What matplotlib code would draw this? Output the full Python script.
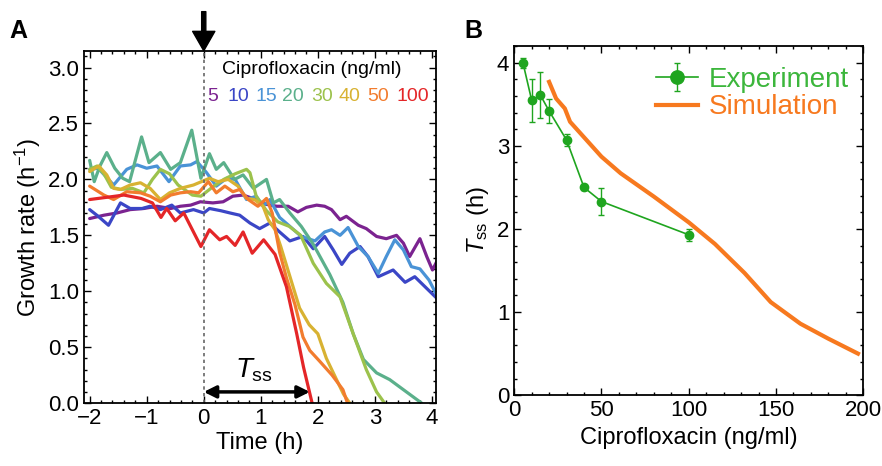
import matplotlib
matplotlib.use("Agg")
import matplotlib.pyplot as plt
from matplotlib.ticker import MultipleLocator

plt.rcParams['font.family'] = ['Liberation Sans', 'DejaVu Sans']
plt.rcParams['mathtext.fontset'] = 'custom'
plt.rcParams['mathtext.rm'] = 'Liberation Sans'
plt.rcParams['mathtext.it'] = 'Liberation Sans:italic'

# ---- Panel A: growth rate vs time, one curve per ciprofloxacin dose ----
doses = ['5', '10', '15', '20', '30', '40', '50', '100']
dose_colors = ['#7b2390', '#3b46c6', '#4a93d6', '#5bb08b', '#9cc24c', '#d8b232', '#f27c2e', '#e42628']

t_5 = [-2.0, -1.75, -1.52, -1.29, -1.05, -0.82, -0.58, -0.41, -0.23, -0.06, 0.16, 0.34, 0.51, 0.69, 0.86,
       1.07, 1.28, 1.48, 1.65, 1.80, 1.98, 2.12, 2.24, 2.39, 2.50, 2.71, 2.85, 3.03, 3.20, 3.38, 3.50, 3.61,
       3.79, 3.91, 4.01, 4.10]
g_5 = [1.65, 1.68, 1.70, 1.73, 1.74, 1.76, 1.74, 1.76, 1.77, 1.80, 1.79, 1.80, 1.85, 1.86, 1.83,
       1.78, 1.76, 1.76, 1.71, 1.75, 1.77, 1.76, 1.73, 1.64, 1.67, 1.59, 1.56, 1.49, 1.47, 1.50, 1.43, 1.31,
       1.47, 1.31, 1.19, 1.28]

t_10 = [-2.0, -1.85, -1.67, -1.46, -1.29, -1.08, -0.94, -0.76, -0.56, -0.41, -0.18, 0.0, 0.1, 0.3, 0.46,
        0.63, 0.81, 0.98, 1.16, 1.33, 1.51, 1.74, 1.92, 2.12, 2.27, 2.42, 2.56, 2.74, 2.88, 3.06, 3.32, 3.53,
        3.70, 3.88, 4.10]
g_10 = [1.73, 1.67, 1.59, 1.79, 1.74, 1.74, 1.76, 1.73, 1.77, 1.70, 1.73, 1.70, 1.74, 1.72, 1.70,
        1.68, 1.61, 1.56, 1.61, 1.53, 1.45, 1.49, 1.38, 1.49, 1.37, 1.24, 1.34, 1.40, 1.31, 1.13, 1.19, 1.08,
        1.13, 1.04, 0.93]

t_15 = [-2.0, -1.85, -1.58, -1.35, -1.17, -1.0, -0.82, -0.61, -0.41, -0.23, -0.12, 0.0, 0.05, 0.22, 0.4,
        0.55, 0.75, 0.92, 1.04, 1.16, 1.33, 1.51, 1.71, 1.95, 2.12, 2.24, 2.39, 2.53, 2.71, 2.88, 3.06, 3.20,
        3.35, 3.50, 3.64, 3.79, 3.95, 4.10]
g_15 = [2.09, 2.10, 1.95, 2.09, 2.13, 2.10, 2.12, 1.98, 2.12, 2.13, 2.16, 2.09, 2.06, 1.94, 2.01,
        2.00, 1.82, 1.85, 1.76, 1.82, 1.66, 1.58, 1.49, 1.45, 1.53, 1.55, 1.50, 1.57, 1.40, 1.31, 1.16, 1.31,
        1.46, 1.37, 1.22, 1.20, 1.10, 0.95]

t_20 = [-2.0, -1.92, -1.82, -1.70, -1.56, -1.42, -1.30, -1.09, -0.96, -0.76, -0.58, -0.41, -0.21, -0.05,
        0.1, 0.22, 0.35, 0.54, 0.69, 0.87, 1.10, 1.22, 1.33, 1.51, 1.71, 1.92, 2.21, 2.44, 2.62, 2.80, 3.03,
        3.26, 3.50, 3.82]
g_20 = [2.17, 1.98, 2.12, 2.24, 2.10, 2.01, 1.98, 2.38, 2.15, 2.24, 2.09, 2.15, 2.44, 2.01,
        2.23, 2.09, 2.15, 2.00, 2.04, 1.92, 2.00, 1.79, 1.82, 1.70, 1.58, 1.42, 1.15, 0.90, 0.62, 0.39, 0.27,
        0.21, 0.12, 0.0]

t_30 = [-2.0, -1.87, -1.75, -1.62, -1.45, -1.25, -1.05, -0.9, -0.76, -0.6, -0.45, -0.2, -0.05, 0.15, 0.35,
        0.55, 0.75, 0.81, 0.92, 1.1, 1.3, 1.5, 1.7, 1.92, 2.15, 2.39, 2.62, 2.85, 3.03, 3.17]
g_30 = [2.09, 2.12, 2.05, 1.93, 1.91, 1.92, 1.88, 2.0, 2.09, 2.05, 1.95, 1.86, 1.85, 1.93, 2.0,
        2.05, 2.09, 2.06, 1.85, 1.72, 1.62, 1.58, 1.50, 1.25, 1.07, 0.95, 0.62, 0.30, 0.10, 0.0]

t_40 = [-2.0, -1.84, -1.70, -1.58, -1.46, -1.29, -1.11, -0.94, -0.76, -0.6, -0.41, -0.18, 0.1, 0.25, 0.43,
        0.6, 0.75, 0.89, 1.04, 1.13, 1.25, 1.35, 1.5, 1.68, 1.85, 2.0, 2.15, 2.3, 2.45, 2.56]
g_40 = [2.07, 2.12, 2.04, 1.92, 1.91, 1.95, 1.97, 1.92, 1.82, 1.88, 1.92, 1.95, 2.01, 1.98, 2.0,
        1.94, 1.83, 1.82, 1.76, 1.64, 1.55, 1.40, 1.15, 0.85, 0.70, 0.62, 0.40, 0.24, 0.08, 0.0]

t_50 = [-2.0, -1.75, -1.58, -1.35, -1.11, -0.94, -0.76, -0.58, -0.41, -0.23, -0.09, 0.08, 0.22, 0.37, 0.51,
        0.63, 0.78, 0.95, 1.10, 1.20, 1.33, 1.45, 1.60, 1.74, 1.86, 2.04, 2.25, 2.44, 2.52]
g_50 = [1.94, 1.86, 1.82, 1.89, 1.88, 1.85, 1.80, 1.86, 1.88, 1.89, 1.88, 1.98, 1.88, 1.94, 1.89,
        1.91, 1.82, 1.76, 1.83, 1.70, 1.35, 1.12, 0.88, 0.59, 0.47, 0.37, 0.25, 0.12, 0.0]

t_100 = [-2.0, -1.7, -1.4, -1.1, -0.9, -0.75, -0.65, -0.5, -0.35, -0.2, -0.05, 0.1, 0.28, 0.4, 0.55,
         0.69, 0.85, 1.05, 1.25, 1.45, 1.63, 1.75, 1.9]
g_100 = [1.82, 1.84, 1.86, 1.83, 1.79, 1.66, 1.74, 1.63, 1.70, 1.55, 1.40, 1.55, 1.46, 1.49, 1.41,
         1.53, 1.34, 1.46, 1.33, 1.04, 0.62, 0.32, 0.0]

times = [t_5, t_10, t_15, t_20, t_30, t_40, t_50, t_100]
rates = [g_5, g_10, g_15, g_20, g_30, g_40, g_50, g_100]

# ---- Panel B: time to stop growth vs dose ----
exp_dose = [5, 10, 15, 20, 30, 40, 50, 100]
exp_tss = [4.0, 3.55, 3.61, 3.42, 3.07, 2.50, 2.33, 1.93]
exp_err = [0.06, 0.26, 0.28, 0.14, 0.07, 0.03, 0.16, 0.07]

sim_dose = [20, 24, 29, 32, 38, 50, 61, 80, 100, 115, 132, 147, 164, 180, 197]
sim_tss = [3.77, 3.57, 3.45, 3.29, 3.15, 2.87, 2.67, 2.39, 2.08, 1.82, 1.47, 1.12, 0.86, 0.68, 0.50]

fig = plt.figure(figsize=(8.82, 4.66), dpi=100)
axA = fig.add_axes([0.0952, 0.135, 0.399, 0.756])
axB = fig.add_axes([0.583, 0.152, 0.3957, 0.749])

for ax in (axA, axB):
    ax.tick_params(which='both', direction='in', top=True, right=True, labelsize=16, width=1.0)
    ax.tick_params(which='major', length=5)
    ax.tick_params(which='minor', length=2.5)
    for s in ax.spines.values():
        s.set_linewidth(1.3)

# panel A
for t, g, c in zip(times, rates, dose_colors):
    axA.plot(t, g, color=c, lw=2.3, solid_joinstyle='round', solid_capstyle='round')

axA.set_xlim(-2.1, 4.07)
axA.set_ylim(0, 3.15)
axA.xaxis.set_major_locator(MultipleLocator(1))
axA.xaxis.set_minor_locator(MultipleLocator(0.2))
axA.yaxis.set_major_locator(MultipleLocator(0.5))
axA.yaxis.set_minor_locator(MultipleLocator(0.1))
axA.set_xticks(range(-2, 5))
axA.set_xticklabels(['\u22122', '\u22121', '0', '1', '2', '3', '4'])
axA.set_xlabel('Time (h)', fontsize=17, labelpad=2)
axA.set_ylabel('Growth rate (h$^{\\mathregular{-1}}$)', fontsize=17, labelpad=4)

axA.axvline(0, color='#666666', lw=1.2, ls=(0, (2, 2)))
axA.annotate('', xy=(0, 3.15), xytext=(0, 3.5), xycoords='data',
             arrowprops=dict(facecolor='black', edgecolor='black', width=3, headwidth=16, headlength=14),
             annotation_clip=False)
axA.annotate('', xy=(1.86, 0.1), xytext=(0, 0.1),
             arrowprops=dict(arrowstyle='<|-|>', color='black', lw=2.5, mutation_scale=18,
                             shrinkA=0, shrinkB=0))
axA.text(0.88, 0.17, '$T_{\\mathrm{ss}}$', fontsize=20, ha='center', va='bottom')

axA.text(1.9, 2.98, 'Ciprofloxacin (ng/ml)', fontsize=14, ha='center', va='center')
label_x = [0.16, 0.60, 1.10, 1.56, 2.07, 2.56, 3.05, 3.67]
for d, c, lx in zip(doses, dose_colors, label_x):
    axA.text(lx, 2.74, d, color=c, fontsize=14, ha='center', va='center')

# panel B
h_sim, = axB.plot(sim_dose, sim_tss, color='#f7791f', lw=3)
h_exp = axB.errorbar(exp_dose, exp_tss, yerr=exp_err, color='#1fa51f', lw=1.2, marker='o', ms=6,
                     capsize=2, elinewidth=1.0)
axB.set_xlim(0, 200)
axB.set_ylim(0, 4.2)
axB.xaxis.set_major_locator(MultipleLocator(50))
axB.xaxis.set_minor_locator(MultipleLocator(10))
axB.yaxis.set_major_locator(MultipleLocator(1))
axB.yaxis.set_minor_locator(MultipleLocator(0.2))
axB.set_xlabel('Ciprofloxacin (ng/ml)', fontsize=17, labelpad=4)
axB.set_ylabel('$T_{\\mathrm{ss}}$ (h)', fontsize=17, labelpad=4)
axB.legend([h_exp, h_sim], ['Experiment', 'Simulation'], loc='upper right', bbox_to_anchor=(1.0, 0.98),
           frameon=False, fontsize=20, labelcolor=['#3cb63c', '#f7791f'], handlelength=1.5,
           handletextpad=0.4, labelspacing=0.05, borderaxespad=0.1, markerscale=1.6)

fig.text(0.011, 0.918, 'A', fontsize=18, fontweight='bold')
fig.text(0.527, 0.918, 'B', fontsize=18, fontweight='bold')

fig.savefig('out.png', dpi=100)
